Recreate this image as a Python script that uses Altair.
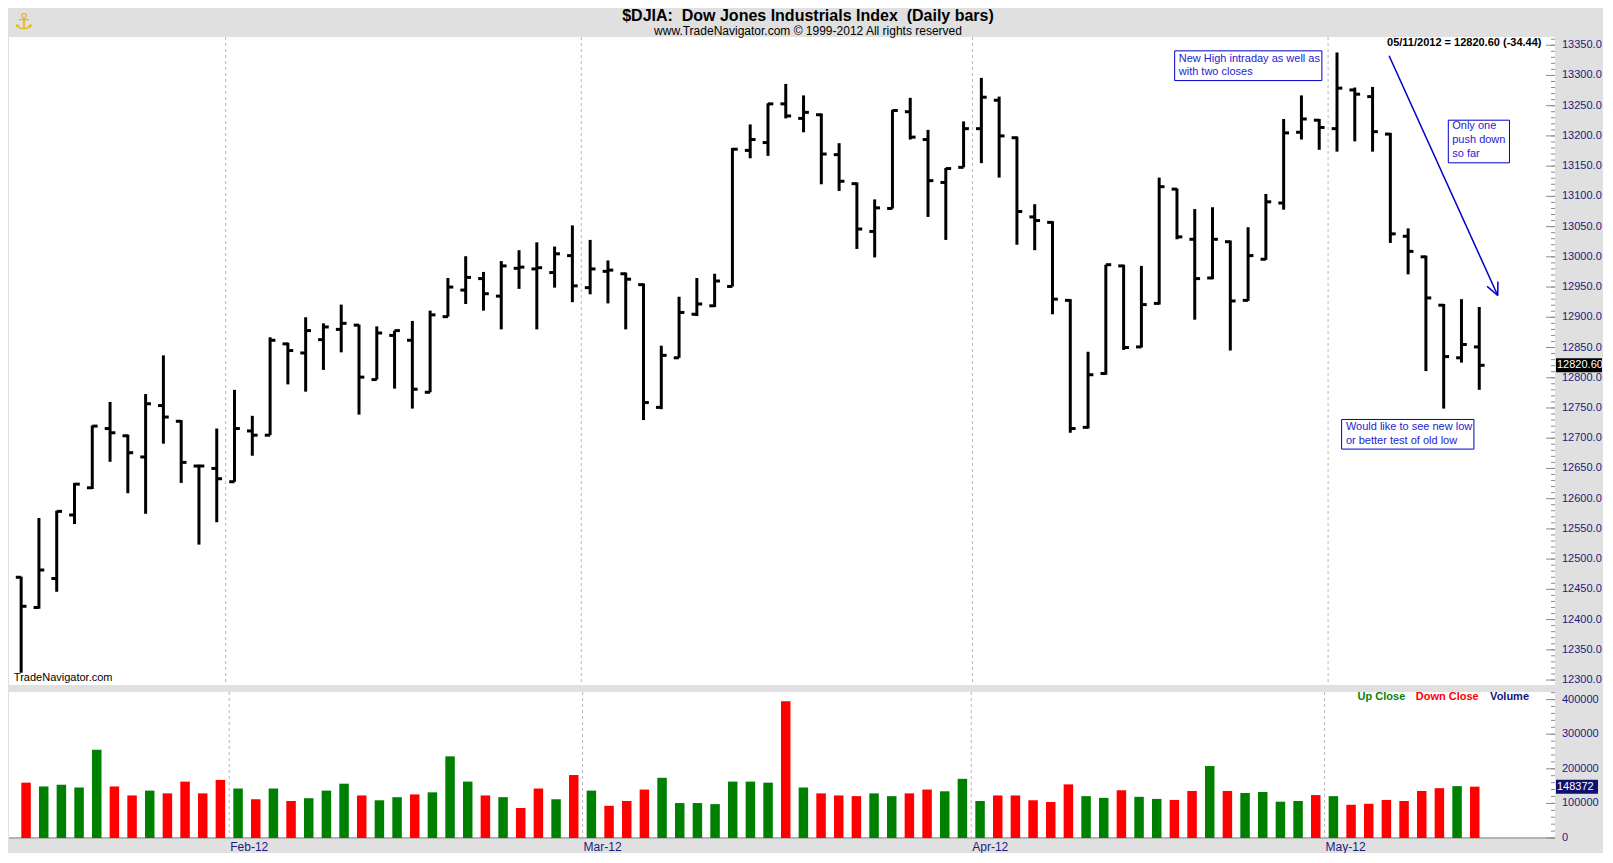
import math
import altair as alt
import pandas as pd

# ---------------- data ----------------
dates = ["01/13", "01/17", "01/18", "01/19", "01/20", "01/23", "01/24", "01/25", "01/26", "01/27",
         "01/30", "01/31", "02/01", "02/02", "02/03", "02/06", "02/07", "02/08", "02/09", "02/10",
         "02/13", "02/14", "02/15", "02/16", "02/17", "02/21", "02/22", "02/23", "02/24", "02/27",
         "02/28", "02/29", "03/01", "03/02", "03/05", "03/06", "03/07", "03/08", "03/09", "03/12",
         "03/13", "03/14", "03/15", "03/16", "03/19", "03/20", "03/21", "03/22", "03/23", "03/26",
         "03/27", "03/28", "03/29", "03/30", "04/02", "04/03", "04/04", "04/05", "04/09", "04/10",
         "04/11", "04/12", "04/13", "04/16", "04/17", "04/18", "04/19", "04/20", "04/23", "04/24",
         "04/25", "04/26", "04/27", "04/30", "05/01", "05/02", "05/03", "05/04", "05/07", "05/08",
         "05/09", "05/10", "05/11"]

opens = [12470, 12420, 12468, 12573, 12618, 12716, 12704, 12669, 12754, 12728,
         12654, 12650, 12628, 12712, 12705, 12856, 12841, 12863, 12880, 12887,
         12797, 12870, 12862, 12776, 12901, 12945, 12964, 12935, 12981, 12980,
         12974, 13002, 12949, 12976, 12972, 12954, 12751, 12833, 12905, 12919,
         12951, 13176, 13189, 13253, 13229, 13235, 13169, 13121, 13042, 13080,
         13240, 13194, 13123, 13148, 13212, 13259, 13197, 13066, 13057, 12928,
         12718, 12807, 12985, 12851, 12923, 13112, 13029, 12965, 13025, 12928,
         12996, 13089, 13206, 13226, 13212, 13276, 13265, 13203, 13034, 13000,
         12920, 12833, 12851]

highs = [12471, 12568, 12580, 12626, 12721, 12760, 12706, 12773, 12837, 12730,
         12656, 12716, 12780, 12737, 12867, 12858, 12900, 12890, 12921, 12888,
         12885, 12878, 12894, 12911, 12965, 13001, 12975, 12993, 13011, 13024,
         13017, 13052, 13028, 12994, 12974, 12956, 12853, 12934, 12965, 12972,
         13180, 13219, 13254, 13286, 13267, 13237, 13188, 13123, 13095, 13243,
         13263, 13210, 13147, 13224, 13296, 13265, 13199, 13087, 13059, 12930,
         12843, 12987, 12987, 12985, 13131, 13113, 13079, 13082, 13027, 13049,
         13104, 13228, 13267, 13228, 13338, 13280, 13281, 13205, 13047, 13002,
         12922, 12930, 12917]

lows = [12312, 12418, 12446, 12558, 12616, 12661, 12609, 12575, 12691, 12626,
        12524, 12561, 12628, 12671, 12705, 12789, 12777, 12813, 12842, 12739,
        12797, 12782, 12749, 12776, 12901, 12922, 12911, 12880, 12947, 12880,
        12949, 12925, 12938, 12923, 12880, 12730, 12748, 12833, 12902, 12917,
        12951, 13163, 13167, 13229, 13206, 13120, 13109, 13013, 12999, 13080,
        13194, 13066, 13028, 13148, 13155, 13131, 13020, 13011, 12905, 12709,
        12716, 12805, 12846, 12850, 12921, 13029, 12896, 12963, 12845, 12927,
        12995, 13078, 13194, 13177, 13174, 13191, 13174, 13023, 12971, 12811,
        12749, 12825, 12780]

closes = [12422, 12482, 12579, 12624, 12720, 12709, 12676, 12757, 12735, 12660,
          12654, 12633, 12716, 12705, 12862, 12845, 12878, 12884, 12890, 12801,
          12874, 12878, 12781, 12904, 12950, 12966, 12939, 12985, 12983, 12982,
          13005, 12952, 12980, 12978, 12963, 12759, 12837, 12908, 12922, 12960,
          13178, 13194, 13253, 13233, 13239, 13170, 13125, 13046, 13081, 13242,
          13198, 13126, 13146, 13212, 13264, 13200, 13075, 13060, 12930, 12716,
          12805, 12987, 12850, 12921, 13116, 13033, 12964, 13029, 12927, 13002,
          13091, 13205, 13228, 13214, 13279, 13269, 13207, 13038, 13009, 12932,
          12835, 12855, 12820.6]

volumes_k = [160, 149, 154, 146, 255, 149, 123, 137, 129, 163,
             129, 168, 143, 112, 143, 107, 115, 137, 157, 123,
             109, 118, 126, 132, 236, 163, 123, 118, 87, 143,
             112, 182, 137, 93, 107, 140, 174, 101, 101, 98,
             163, 163, 160, 395, 146, 129, 123, 121, 129, 121,
             129, 140, 135, 171, 107, 123, 123, 109, 104, 155,
             121, 116, 138, 119, 113, 110, 136, 208, 136, 130,
             133, 105, 107, 124, 121, 96, 99, 110, 107, 136,
             144, 150, 148.372]

month_labels = ["Feb-12", "Mar-12", "Apr-12", "May-12"]
month_pos = [11.5, 31.5, 53.5, 73.5]

price_ticks = list(range(12300, 13351, 50))
price_minor = list(range(12300, 13361, 10))
vol_ticks = [0, 100000, 200000, 300000, 400000]
vol_minor = list(range(0, 420001, 20000))

NB = "\u00a0"
title_text = f"$DJIA:{NB}{NB}Dow Jones Industrials Index{NB}{NB}(Daily bars)"
subtitle_text = "www.TradeNavigator.com \u00a9 1999-2012 All rights reserved"
last_text = "05/11/2012 = 12820.60 (-34.44)"
last_price = 12820.6
last_volume = 148372

# annotation boxes: [x0, x1] in bar units, [y0, y1] in price units
notes = [
    {"x0": 64.87, "x1": 73.15, "y0": 13291.5, "y1": 13340.7,
     "lines": ["New High intraday as well as", "with two closes"],
     "tx": 65.1, "ty": [13327.5, 13306.0]},
    {"x0": 80.26, "x1": 83.70, "y0": 13155.5, "y1": 13226.0,
     "lines": ["Only one", "push down", "so far"],
     "tx": 80.48, "ty": [13215.6, 13192.7, 13169.7]},
    {"x0": 74.26, "x1": 81.70, "y0": 12682.0, "y1": 12731.0,
     "lines": ["Would like to see new low", "or better test of old low"],
     "tx": 74.50, "ty": [12719.0, 12696.0]},
]
arrow_start = (76.93, 13332.5)
arrow_end = (83.04, 12936.0)

legend_items = [("Up Close", 75.37, "#0a7f0a"), ("Down Close", 78.66, "#ff0000"), ("Volume", 82.87, "#14147a")]
legend_y = 408000

# ---------------- layout ----------------
W = 1546
HP = 648
HV = 146
XDOM = [-0.683, 86.26]
PDOM = [12291.8, 13363.6]
VDOM = [0, 422000]

FONT = "Liberation Sans"
NAVY = "#1a1a80"
BLUE = "#2323d2"
GRID = "#b8b8b8"
TICK = "#8c8c8c"

xs = alt.Scale(domain=XDOM, nice=False, zero=False)
ps = alt.Scale(domain=PDOM, nice=False, zero=False)
vs = alt.Scale(domain=VDOM, nice=False, zero=False)

n = len(closes)
df = pd.DataFrame({
    "i": list(range(n)), "date": dates, "o": opens, "h": highs, "l": lows, "c": closes,
    "v": [k * 1000 for k in volumes_k],
})
df["dir"] = ["up" if k > 0 and closes[k] > closes[k - 1] else "down" for k in range(n)]

months = pd.DataFrame({"pos": month_pos, "label": month_labels})

px_per_x = W / (XDOM[1] - XDOM[0])
px_per_p = HP / (PDOM[1] - PDOM[0])
px_per_v = HV / (VDOM[1] - VDOM[0])


def X(f):
    return alt.X(f, scale=xs, axis=None)


def YP(f):
    return alt.Y(f, scale=ps, axis=None)


def YV(f):
    return alt.Y(f, scale=vs, axis=None)


# ---------------- price panel ----------------
base = alt.Chart(df)

month_rules_p = alt.Chart(months).mark_rule(color=GRID, strokeDash=[3, 3], strokeWidth=1).encode(x=X("pos:Q"))

minor_p = alt.Chart(pd.DataFrame({"p": price_minor})).mark_rule(color=TICK, strokeWidth=1).encode(
    x=alt.value(W - 4), x2=alt.value(W), y=YP("p:Q"))
major_p = alt.Chart(pd.DataFrame({"p": price_ticks})).mark_rule(color=TICK, strokeWidth=1).encode(
    x=alt.value(W - 9), x2=alt.value(W), y=YP("p:Q"))
plabels = alt.Chart(pd.DataFrame({"p": price_ticks, "t": [f"{p:.1f}" for p in price_ticks]})).mark_text(
    align="left", baseline="middle", color=NAVY, font=FONT, fontSize=11).encode(
    x=alt.value(W + 7), y=YP("p:Q"), text="t:N")

hl = base.mark_rule(color="black", strokeWidth=3, strokeCap="butt").encode(
    x=X("i:Q"), y=YP("l:Q"), y2="h:Q")
open_tick = base.transform_calculate(xl="datum.i - 0.3").mark_rule(
    color="black", strokeWidth=3, strokeCap="butt").encode(x=X("xl:Q"), x2="i:Q", y=YP("o:Q"))
close_tick = base.transform_calculate(xr="datum.i + 0.3").mark_rule(
    color="black", strokeWidth=3, strokeCap="butt").encode(x=X("i:Q"), x2="xr:Q", y=YP("c:Q"))

box_df = pd.DataFrame([{k: nt[k] for k in ("x0", "x1", "y0", "y1")} for nt in notes])
boxes = alt.Chart(box_df).mark_rect(fill="white", stroke="#0000c8", strokeWidth=1).encode(
    x=X("x0:Q"), x2="x1:Q", y=YP("y0:Q"), y2="y1:Q")

note_rows = []
for nt in notes:
    for line, ty in zip(nt["lines"], nt["ty"]):
        note_rows.append({"x": nt["tx"], "y": ty, "t": line})
note_text = alt.Chart(pd.DataFrame(note_rows)).mark_text(
    align="left", baseline="middle", color=BLUE, font=FONT, fontSize=11).encode(
    x=X("x:Q"), y=YP("y:Q"), text="t:N")

# arrow shaft + head (head arms computed in pixel space, converted back to data units)
ax0, ay0 = arrow_start
ax1, ay1 = arrow_end
dxp = (ax0 - ax1) * px_per_x
dyp = -(ay0 - ay1) * px_per_p
ln = math.hypot(dxp, dyp)
ux, uy = dxp / ln, dyp / ln
segs = [{"x": ax0, "y": ay0, "x2": ax1, "y2": ay1}]
for ang in (25, -25):
    a = math.radians(ang)
    rx = ux * math.cos(a) - uy * math.sin(a)
    ry = ux * math.sin(a) + uy * math.cos(a)
    segs.append({"x": ax1, "y": ay1, "x2": ax1 + 14 * rx / px_per_x, "y2": ay1 - 14 * ry / px_per_p})
arrow = alt.Chart(pd.DataFrame(segs)).mark_rule(color="#0000c8", strokeWidth=1.5).encode(
    x=X("x:Q"), x2="x2:Q", y=YP("y:Q"), y2="y2:Q")

last_lbl = alt.Chart(pd.DataFrame({"x": [85.5], "y": [13354.0], "t": [last_text]})).mark_text(
    align="right", baseline="middle", font=FONT, fontSize=11, fontWeight="bold", color="black").encode(
    x=X("x:Q"), y=YP("y:Q"), text="t:N")

brand = alt.Chart(pd.DataFrame({"x": [-0.41], "y": [12304.0], "t": ["TradeNavigator.com"]})).mark_text(
    align="left", baseline="middle", font=FONT, fontSize=11, color="black").encode(
    x=X("x:Q"), y=YP("y:Q"), text="t:N")

hp = 7 / px_per_p
pbox = alt.Chart(pd.DataFrame({"y": [last_price - hp], "y2": [last_price + hp]})).mark_rect(
    color="black").encode(x=alt.value(W + 1), x2=alt.value(W + 47), y=YP("y:Q"), y2="y2:Q")
ptext = alt.Chart(pd.DataFrame({"y": [last_price], "t": [f"{last_price:.2f}"]})).mark_text(
    align="left", baseline="middle", color="white", font=FONT, fontSize=11).encode(
    x=alt.value(W + 2), y=YP("y:Q"), text="t:N")

# header (drawn above the price plot)
header_title = alt.Chart(pd.DataFrame({"t": [title_text]})).mark_text(
    align="center", baseline="middle", color="black", font=FONT, fontSize=16, fontWeight="bold").encode(
    x=alt.value(799), y=alt.value(-21), text="t:N")
header_sub = alt.Chart(pd.DataFrame({"t": [subtitle_text]})).mark_text(
    align="center", baseline="middle", color="black", font=FONT, fontSize=12).encode(
    x=alt.value(799), y=alt.value(-6), text="t:N")
logo = alt.Chart(pd.DataFrame({"t": ["\u2693"]})).mark_text(
    align="center", baseline="middle", color="#e6b80c", font="DejaVu Sans", fontSize=22).encode(
    x=alt.value(15), y=alt.value(-15), text="t:N")

price = alt.layer(month_rules_p, minor_p, major_p, plabels, hl, open_tick, close_tick, boxes, note_text,
                  arrow, last_lbl, brand, pbox, ptext, header_title, header_sub, logo).properties(
    width=W, height=HP)

# ---------------- volume panel ----------------
month_rules_v = alt.Chart(months).mark_rule(color=GRID, strokeDash=[3, 3], strokeWidth=1).encode(x=X("pos:Q"))
month_text = alt.Chart(months).mark_text(
    align="left", baseline="middle", color=NAVY, font=FONT, fontSize=12, dx=1).encode(
    x=X("pos:Q"), y=alt.value(HV + 9), text="label:N")
baseline_v = alt.Chart(pd.DataFrame({"v": [0]})).mark_rule(color="#b4b4b4", strokeWidth=2).encode(
    y=YV("v:Q"))

minor_v = alt.Chart(pd.DataFrame({"v": vol_minor})).mark_rule(color=TICK, strokeWidth=1).encode(
    x=alt.value(W - 4), x2=alt.value(W), y=YV("v:Q"))
major_v = alt.Chart(pd.DataFrame({"v": vol_ticks})).mark_rule(color=TICK, strokeWidth=1).encode(
    x=alt.value(W - 9), x2=alt.value(W), y=YV("v:Q"))
vlabels = alt.Chart(pd.DataFrame({"v": vol_ticks, "t": [str(v) for v in vol_ticks]})).mark_text(
    align="left", baseline="middle", color=NAVY, font=FONT, fontSize=11).encode(
    x=alt.value(W + 7), y=YV("v:Q"), text="t:N")

vbars = base.mark_bar(width=9.5).encode(
    x=X("i:Q"), y=YV("v:Q"),
    color=alt.Color("dir:N", scale=alt.Scale(domain=["up", "down"], range=["#008000", "#ff0000"]),
                    legend=None))

leg = alt.Chart(pd.DataFrame([{"x": x, "y": legend_y, "t": t, "c": c} for t, x, c in legend_items])).mark_text(
    align="left", baseline="middle", font=FONT, fontSize=11, fontWeight="bold").encode(
    x=X("x:Q"), y=YV("y:Q"), text="t:N", color=alt.Color("c:N", scale=None))

hv = 7 / px_per_v
vbox = alt.Chart(pd.DataFrame({"y": [last_volume - hv], "y2": [last_volume + hv]})).mark_rect(
    color="#10106e").encode(x=alt.value(W + 1), x2=alt.value(W + 43), y=YV("y:Q"), y2="y2:Q")
vtext = alt.Chart(pd.DataFrame({"y": [last_volume], "t": [str(last_volume)]})).mark_text(
    align="left", baseline="middle", color="white", font=FONT, fontSize=11).encode(
    x=alt.value(W + 2), y=YV("y:Q"), text="t:N")

volume = alt.layer(month_rules_v, baseline_v, minor_v, major_v, vlabels, vbars, month_text, leg,
                   vbox, vtext).properties(width=W, height=HV)

chart = alt.vconcat(price, volume, spacing=4).properties(
    padding={"left": 0, "top": 0, "right": 0, "bottom": 0},
    background="#e0e0e0",
).configure_view(fill="white", strokeWidth=0)

chart.save("out.html", embed_options={"renderer": "svg", "actions": False})
